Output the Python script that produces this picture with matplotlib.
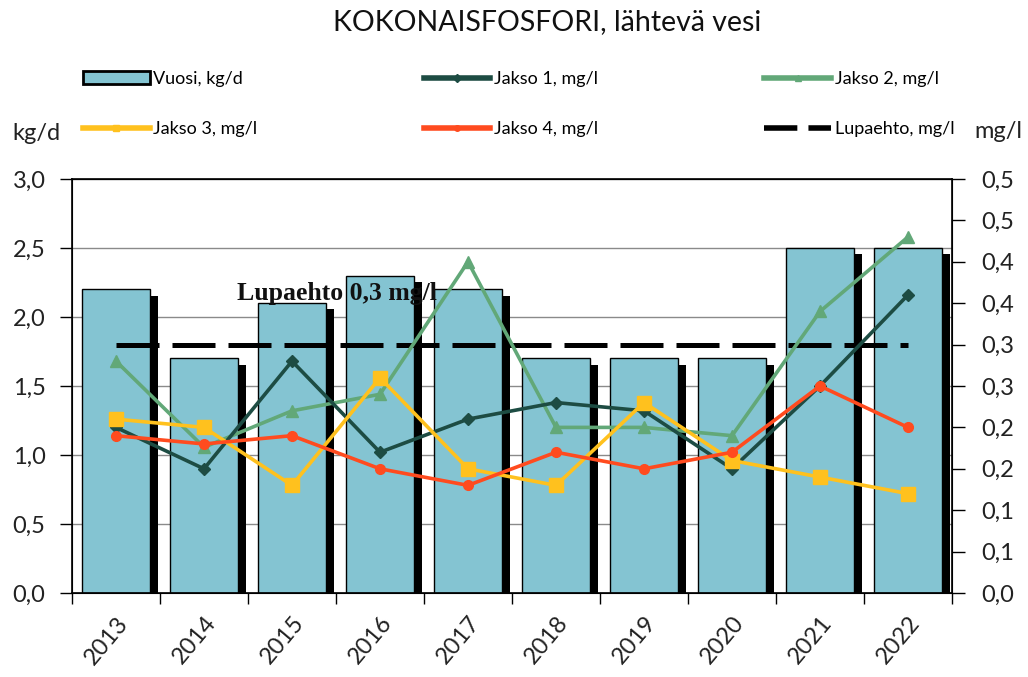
import matplotlib
matplotlib.use("Agg")
import matplotlib.pyplot as plt
import matplotlib.patheffects as pe
from matplotlib.lines import Line2D
from matplotlib.patches import Patch
from matplotlib.ticker import FixedLocator
import numpy as np

plt.rcParams['font.family'] = ['Lato', 'DejaVu Sans']

years = ["2013", "2014", "2015", "2016", "2017", "2018", "2019", "2020", "2021", "2022"]
vuosi_kgd = [2.2, 1.7, 2.1, 2.3, 2.2, 1.7, 1.7, 1.7, 2.5, 2.5]
jakso1 = [0.20, 0.15, 0.28, 0.17, 0.21, 0.23, 0.22, 0.15, 0.25, 0.36]
jakso2 = [0.28, 0.176, 0.22, 0.24, 0.40, 0.20, 0.20, 0.19, 0.34, 0.43]
jakso3 = [0.21, 0.20, 0.13, 0.26, 0.15, 0.13, 0.23, 0.16, 0.14, 0.12]
jakso4 = [0.19, 0.18, 0.19, 0.15, 0.13, 0.17, 0.15, 0.17, 0.25, 0.20]
lupaehto = 0.3
left_ticks = [0.0, 0.5, 1.0, 1.5, 2.0, 2.5, 3.0]
left_tick_labels = ["0,0", "0,5", "1,0", "1,5", "2,0", "2,5", "3,0"]
right_ticks = [0.0, 0.05, 0.1, 0.15, 0.2, 0.25, 0.3, 0.35, 0.4, 0.45, 0.5]
right_tick_labels = ["0,0", "0,1", "0,1", "0,2", "0,2", "0,3", "0,3", "0,4", "0,4", "0,5", "0,5"]

c_bar = "#84C4D2"
c_j1 = "#1D4C43"
c_j2 = "#62A878"
c_j3 = "#FFC11E"
c_j4 = "#FF4B1F"

W, H = 1028, 677
fig = plt.figure(figsize=(W / 100, H / 100), dpi=100)
ax = fig.add_axes([72 / W, 1 - 593 / H, (952 - 72) / W, (593 - 179) / H])
x = np.arange(len(years))

ax.set_xlim(-0.5, len(years) - 0.5)
ax.set_ylim(0, 3.0)
ax.set_axisbelow(True)
ax.yaxis.grid(True, color="#8a8a8a", linewidth=1.0)

bars = ax.bar(x, vuosi_kgd, width=0.78, color=c_bar, edgecolor="black", linewidth=1.0, zorder=2)
for b in bars:
    b.set_path_effects([pe.SimplePatchShadow(offset=(5.2, -4.5), shadow_rgbFace="black", alpha=1.0),
                        pe.Normal()])

ax.set_yticks(left_ticks)
ax.set_yticklabels(left_tick_labels)
ax.set_xticks(x)
ax.set_xticklabels(years, rotation=50, ha="right", va="top", rotation_mode="anchor")
ax.xaxis.set_minor_locator(FixedLocator(np.arange(-0.5, len(years), 1.0)))
ax.tick_params(axis="x", which="major", length=0, pad=14, labelsize=17, labelcolor="#222222")
ax.tick_params(axis="x", which="minor", length=8, width=1, direction="out")
ax.tick_params(axis="y", length=9, width=1, direction="out", pad=10, labelsize=17, labelcolor="#222222")
for s in ax.spines.values():
    s.set_linewidth(1.2)

ax.text(1.375, 2.12, "Lupaehto 0,3 mg/l", family="Liberation Serif", fontweight="bold",
        fontsize=18.5, ha="left", va="baseline", zorder=5, color="#111111")

ax2 = ax.twinx()
ax2.set_ylim(0, 0.5)
ax2.set_yticks(right_ticks)
ax2.set_yticklabels(right_tick_labels)
ax2.tick_params(axis="y", length=9, width=1, direction="out", pad=12, labelsize=17, labelcolor="#222222")

ax2.plot([x[0], x[-1]], [lupaehto, lupaehto], color="black", linewidth=3.6, dashes=(8.6, 2.6), zorder=2)
lw = 2.6
ax2.plot(x, jakso2, color=c_j2, lw=lw, marker="^", ms=9, zorder=3)
ax2.plot(x, jakso1, color=c_j1, lw=lw, marker="D", ms=6, zorder=4)
ax2.plot(x, jakso3, color=c_j3, lw=lw, marker="s", ms=10, zorder=5)
ax2.plot(x, jakso4, color=c_j4, lw=lw, marker="o", ms=7, zorder=6)

fig.text(547 / W, 1 - 22 / H, "KOKONAISFOSFORI, lähtevä vesi", ha="center", va="center",
         fontsize=20.5, color="#111111")
fig.text(12 / W, 1 - 133 / H, "kg/d", ha="left", va="center", fontsize=17, color="#222222")
fig.text(1022 / W, 1 - 131 / H, "mg/l", ha="right", va="center", fontsize=17, color="#222222")

handles = [
    Patch(facecolor=c_bar, edgecolor="black", linewidth=2.0),
    Line2D([], [], color=c_j3, lw=4, marker="s", ms=5),
    Line2D([], [], color=c_j1, lw=4, marker="D", ms=4),
    Line2D([], [], color=c_j4, lw=4, marker="o", ms=4),
    Line2D([], [], color=c_j2, lw=4, marker="^", ms=5),
    Line2D([], [], color="black", lw=4, dashes=(6, 2)),
]
labels = ["Vuosi, kg/d", "Jakso 3, mg/l", "Jakso 1, mg/l", "Jakso 4, mg/l", "Jakso 2, mg/l",
          "Lupaehto, mg/l"]
fig.legend(handles, labels, ncol=3, loc="upper left", bbox_to_anchor=(83 / W, 1 - 71 / H),
           frameon=False, borderpad=0, borderaxespad=0, fontsize=13, handlelength=3.7,
           handletextpad=0.2, columnspacing=9.2, labelspacing=1.9)

fig.savefig("out.png", dpi=100)
